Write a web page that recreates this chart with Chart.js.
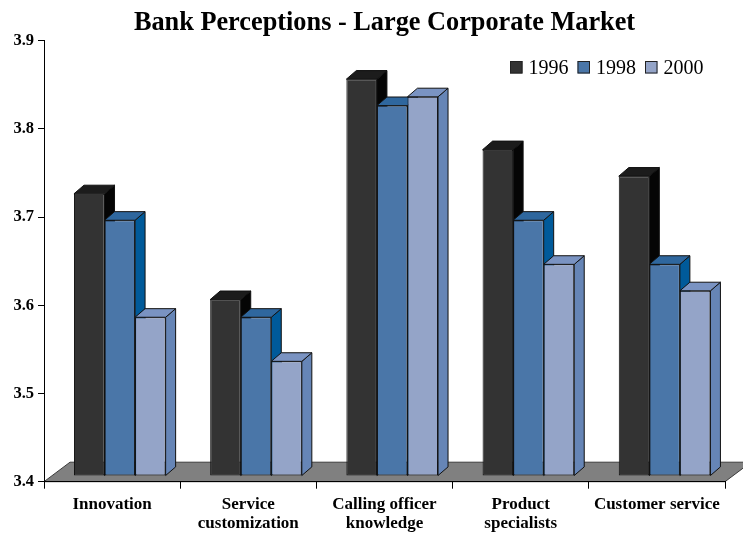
<!DOCTYPE html>
<html>
<head>
    <title>Bank Perceptions - Large Corporate Market</title>
    <script src="https://cdn.jsdelivr.net/npm/chart.js"></script>
    <style>
        body { margin: 0; background: #ffffff; }
        .chart-container { width: 743px; height: 534px; }
    </style>
    <script type="text/javascript">
        // survey scores per category
        var categories = ['Innovation', ['Service', 'customization'], ['Calling officer', 'knowledge'], ['Product', 'specialists'], 'Customer service'];
        var years = ['1996', '1998', '2000'];
        var scores1996 = [3.72, 3.60, 3.85, 3.77, 3.74];
        var scores1998 = [3.69, 3.58, 3.82, 3.69, 3.64];
        var scores2000 = [3.58, 3.53, 3.83, 3.64, 3.61];
        var yMin = 3.4, yMax = 3.9, yStep = 0.1;

        // face colours: front, side, top
        var faces = [
            ['#333333', '#050505', '#1c1c1c'],
            ['#4a76a8', '#005a9a', '#2f679e'],
            ['#94a4c8', '#6685b6', '#7a93c2']
        ];

        var SERIF = "'Liberation Serif', 'Times New Roman', serif";
        var SHIFT_X = 7.7, SHIFT_Y = -5.7;   // bars stand a little back on the floor
        var DEPTH_X = 10, DEPTH_Y = 8.6;     // bar depth
        var FLOOR_X = 26, FLOOR_Y = 19.5;    // floor depth

        var floorPlugin = {
            id: 'floor',
            beforeDraw: function(chart) {
                var ctx = chart.ctx, a = chart.chartArea;
                ctx.save();
                ctx.beginPath();
                ctx.moveTo(a.left, a.bottom);
                ctx.lineTo(a.left + FLOOR_X, a.bottom - FLOOR_Y);
                ctx.lineTo(a.right + FLOOR_X, a.bottom - FLOOR_Y);
                ctx.lineTo(a.right, a.bottom);
                ctx.closePath();
                ctx.fillStyle = '#808080';
                ctx.fill();
                ctx.strokeStyle = '#3a3a3a';
                ctx.lineWidth = 1;
                ctx.stroke();
                ctx.restore();
            }
        };

        // bars are painted here, series by series, so each one covers the side of its left neighbour
        var boxPlugin = {
            id: 'box3d',
            beforeDatasetDraw: function() {
                return false;
            },
            afterDatasetsDraw: function(chart) {
                var ctx = chart.ctx;
                chart.data.datasets.forEach(function(ds, i) {
                    var col = faces[i];
                    chart.getDatasetMeta(i).data.forEach(function(bar) {
                        var l = bar.x - bar.width / 2, r = bar.x + bar.width / 2;
                        var t = bar.y, b = bar.base;
                        ctx.save();
                        ctx.translate(SHIFT_X, SHIFT_Y);
                        bar.draw(ctx);
                        ctx.lineWidth = 1;
                        ctx.strokeStyle = '#111111';
                        ctx.lineJoin = 'round';
                        // side
                        ctx.beginPath();
                        ctx.moveTo(r, t);
                        ctx.lineTo(r + DEPTH_X, t - DEPTH_Y);
                        ctx.lineTo(r + DEPTH_X, b - DEPTH_Y);
                        ctx.lineTo(r, b);
                        ctx.closePath();
                        ctx.fillStyle = col[1];
                        ctx.fill();
                        ctx.stroke();
                        // top
                        ctx.beginPath();
                        ctx.moveTo(l, t);
                        ctx.lineTo(l + DEPTH_X, t - DEPTH_Y);
                        ctx.lineTo(r + DEPTH_X, t - DEPTH_Y);
                        ctx.lineTo(r, t);
                        ctx.closePath();
                        ctx.fillStyle = col[2];
                        ctx.fill();
                        ctx.stroke();
                        ctx.restore();
                    });
                });
            }
        };

        var legendPlugin = {
            id: 'cornerLegend',
            afterDraw: function(chart) {
                var ctx = chart.ctx;
                var box = 12.5, gap = 6, spacing = 9;
                ctx.save();
                ctx.font = '20px ' + SERIF;
                ctx.textBaseline = 'alphabetic';
                var x = 510, yBox = 61, yText = 74;
                chart.data.datasets.forEach(function(ds) {
                    ctx.fillStyle = ds.backgroundColor;
                    ctx.fillRect(x, yBox, box, box);
                    ctx.strokeStyle = '#222222';
                    ctx.lineWidth = 1;
                    ctx.strokeRect(x + 0.5, yBox + 0.5, box - 1, box - 1);
                    ctx.fillStyle = '#000000';
                    ctx.fillText(ds.label, x + box + gap, yText);
                    x += box + gap + ctx.measureText(ds.label).width + spacing;
                });
                ctx.restore();
            }
        };

        window.onload = function() {
            var series = [scores1996, scores1998, scores2000];
            var datasets = years.map(function(year, i) {
                return {
                    label: year,
                    data: series[i],
                    base: yMin,
                    backgroundColor: faces[i][0],
                    borderColor: '#111111',
                    borderWidth: 1,
                    borderSkipped: false,
                    categoryPercentage: 0.673,
                    barPercentage: 1.0
                };
            });

            var ctx = document.getElementById('perceptionChart').getContext('2d');
            new Chart(ctx, {
                type: 'bar',
                data: { labels: categories, datasets: datasets },
                options: {
                    responsive: true,
                    maintainAspectRatio: false,
                    animation: false,
                    layout: { padding: { top: 0, right: 18, bottom: 0, left: 0 } },
                    plugins: {
                        legend: { display: false },
                        tooltip: { enabled: false },
                        title: {
                            display: true,
                            fullSize: false,
                            text: 'Bank Perceptions - Large Corporate Market',
                            color: '#000000',
                            font: { family: SERIF, size: 26.3, weight: 'bold', lineHeight: 1.2 },
                            padding: { top: 7, bottom: 2.2 }
                        }
                    },
                    scales: {
                        x: {
                            grid: {
                                offset: true,
                                drawOnChartArea: false,
                                drawTicks: true,
                                tickLength: 7,
                                tickColor: '#000000'
                            },
                            border: { display: true, color: '#000000', width: 1 },
                            ticks: {
                                color: '#000000',
                                padding: 6,
                                maxRotation: 0,
                                autoSkip: false,
                                font: { family: SERIF, size: 17, weight: 'bold', lineHeight: 1.15 }
                            },
                            afterFit: function(scale) { scale.height = 52.3; }
                        },
                        y: {
                            min: yMin,
                            max: yMax,
                            grid: {
                                drawOnChartArea: false,
                                drawTicks: true,
                                tickLength: 6,
                                tickColor: '#000000'
                            },
                            border: { display: true, color: '#000000', width: 1 },
                            ticks: {
                                stepSize: yStep,
                                color: '#000000',
                                padding: 4,
                                font: { family: SERIF, size: 16.5, weight: 'bold' },
                                callback: function(v) { return Number(v).toFixed(1); }
                            },
                            afterFit: function(scale) { scale.width = 44; }
                        }
                    }
                },
                plugins: [floorPlugin, boxPlugin, legendPlugin]
            });
        };
    </script>
</head>
<body>
    <div class="chart-container">
        <canvas id="perceptionChart"></canvas>
    </div>
</body>
</html>
